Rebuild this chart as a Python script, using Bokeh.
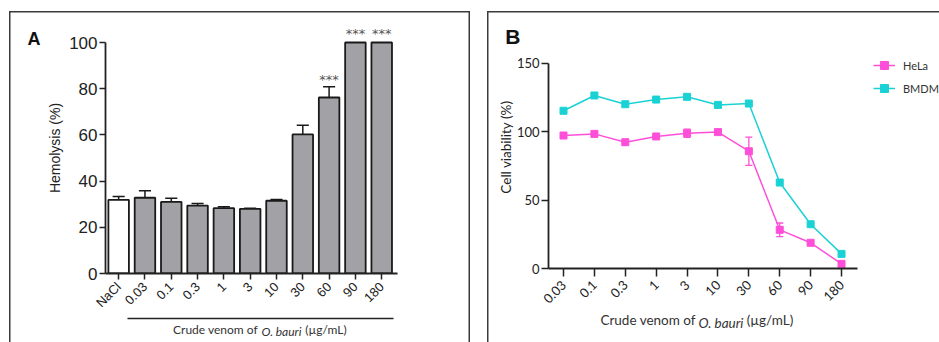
import math
from bokeh.plotting import figure
from bokeh.models import (Range1d, FixedTicker, Label, Legend, LegendItem, LinearAxis)
from bokeh.layouts import row
from bokeh.embed import file_html
from bokeh.resources import INLINE

# ---------------- data ----------------
# Panel A : hemolysis
hemo_categories = ["NaCl", "0.03", "0.1", "0.3", "1", "3", "10", "30", "60", "90", "180"]
hemo_mean = [31.9, 32.8, 31.0, 29.4, 28.3, 28.0, 31.5, 60.2, 76.2, 100.0, 100.0]
hemo_err = [1.4, 3.0, 1.6, 0.9, 0.6, 0.3, 0.5, 4.0, 4.6, 0.0, 0.0]
hemo_stars = ["", "", "", "", "", "", "", "", "***", "***", "***"]
hemo_yticks = [0, 20, 40, 60, 80, 100]

# Panel B : cell viability
conc_labels = ["0.03", "0.1", "0.3", "1", "3", "10", "30", "60", "90", "180"]
hela_mean = [97.3, 98.5, 92.4, 96.6, 99.0, 99.8, 85.8, 28.3, 18.8, 3.4]
hela_err = [0.0, 0.0, 0.0, 0.0, 3.0, 0.0, 10.3, 5.0, 0.0, 0.0]
bmdm_mean = [115.4, 126.6, 120.2, 123.6, 125.6, 119.7, 120.7, 62.9, 32.4, 10.7]
bmdm_err = [0.0] * 10
viab_yticks = [0, 50, 100, 150]
series_names = ["HeLa", "BMDM"]

title_parts = ["Crude venom of", "O. bauri", "(µg/mL)"]
panel_letters = ["A", "B"]

AX = "#222222"
TXT = "#333333"
HELA = "#ff4fd8"
BMDM = "#1ad2d4"
FRAME = "#3a3a3a"
H = 331


def style_axis(ax):
    ax.axis_line_color = AX
    ax.axis_line_width = 1.8
    ax.major_tick_line_color = AX
    ax.major_tick_line_width = 1.5
    ax.major_tick_in = 0
    ax.minor_tick_line_color = None


def text_axis(ticks, labels, font, size, style="normal", standoff=0):
    a = LinearAxis(ticker=FixedTicker(ticks=ticks),
                   major_label_overrides={t: s for t, s in zip(ticks, labels)})
    a.axis_line_color = None
    a.major_tick_line_color = None
    a.minor_tick_line_color = None
    a.major_tick_out = 0
    a.major_tick_in = 0
    a.major_label_standoff = standoff
    a.major_label_text_font = font
    a.major_label_text_font_size = size
    a.major_label_text_font_style = style
    a.major_label_text_color = TXT
    return a


# ================= panel A =================
W_A = 461
pA = figure(width=W_A, height=H, output_backend="svg", toolbar_location=None,
            x_range=Range1d(0, 11.1), y_range=Range1d(0, 108.66),
            min_border_left=96, min_border_right=W_A - 388,
            min_border_top=11, min_border_bottom=H - 262,
            margin=(11, 0, 0, 9))
try:
    pA.frame_align = False
except Exception:
    pass
pA.grid.visible = False
pA.outline_line_color = None
pA.background_fill_color = None
pA.border_fill_color = None
pA.styles = {"box-shadow": "inset 1.5px 0 0 0 %s, inset -1.5px 0 0 0 %s, inset 0 1.5px 0 0 %s"
             % (FRAME, FRAME, FRAME)}

xA = [i + 0.5 for i in range(len(hemo_categories))]
fills = ["white"] + ["#a2a2a6"] * (len(hemo_categories) - 1)
ex = [x for x, e in zip(xA, hemo_err) if e > 0]
ey0 = [m for m, e in zip(hemo_mean, hemo_err) if e > 0]
ey1 = [m + e for m, e in zip(hemo_mean, hemo_err) if e > 0]
pA.segment(x0=ex, y0=ey0, x1=ex, y1=ey1, line_color="#1a1a1a", line_width=1.5)
pA.segment(x0=[x - 0.23 for x in ex], y0=ey1, x1=[x + 0.23 for x in ex], y1=ey1,
           line_color="#1a1a1a", line_width=1.5)
pA.vbar(x=xA, top=hemo_mean, width=0.78, fill_color=fills, line_color="#1a1a1a", line_width=1.8)

pA.xaxis.ticker = FixedTicker(ticks=xA)
pA.xaxis.major_label_overrides = {x: c for x, c in zip(xA, hemo_categories)}
pA.xaxis.major_label_orientation = math.pi / 4
pA.xaxis.major_label_text_font = "Liberation Sans"
pA.xaxis.major_label_text_font_size = "13px"
pA.xaxis.major_label_text_color = AX
pA.xaxis.major_label_standoff = 5
pA.xaxis.major_tick_out = 6
pA.yaxis.ticker = FixedTicker(ticks=hemo_yticks)
pA.yaxis.bounds = (0, 100)
pA.yaxis.major_label_text_font = "Liberation Sans"
pA.yaxis.major_label_text_font_size = "17px"
pA.yaxis.major_label_text_color = AX
pA.yaxis.major_label_standoff = 2
pA.yaxis.major_tick_out = 6
pA.yaxis.axis_label = "Hemolysis (%)"
pA.yaxis.axis_label_text_font = "Liberation Sans"
pA.yaxis.axis_label_text_font_size = "14px"
pA.yaxis.axis_label_text_font_style = "normal"
pA.yaxis.axis_label_text_color = AX
pA.yaxis.axis_label_standoff = 3
style_axis(pA.xaxis[0])
style_axis(pA.yaxis[0])

for x, s, m in zip(xA, hemo_stars, hemo_mean):
    if s:
        pA.add_layout(Label(x=x, y=(103.8 if m >= 100 else 83.9), text=s, text_align="center",
                            text_baseline="alphabetic", text_font="DejaVu Sans",
                            text_font_size="13px", text_color="#555555"))

# panel letter (left of the y axis)
pA.add_layout(text_axis([101.5], [panel_letters[0]], "Liberation Sans", "18px", "bold", 4), "left")
pA.left[-1].major_label_text_color = "#111111"
# underline + x title
uA = text_axis([4.18, 8.38], [title_parts[0], title_parts[2]], "Lato", "12px", "normal", 3)
uA.axis_line_color = AX
uA.axis_line_width = 1.5
uA.bounds = (0.836, 10.948)
pA.add_layout(uA, "below")
pA.add_layout(text_axis([6.69], [title_parts[1]], "Lato", "12px", "italic", -16), "below")

# ================= panel B =================
W_B = 452
pB = figure(width=W_B, height=H, output_backend="svg", toolbar_location=None,
            x_range=Range1d(-0.486, 12.172), y_range=Range1d(0, 177.8),
            min_border_left=61, min_border_right=0,
            min_border_top=14, min_border_bottom=H - 257,
            margin=(11, 0, 0, 17))
try:
    pB.frame_align = False
except Exception:
    pass
pB.grid.visible = False
pB.outline_line_color = None
pB.background_fill_color = None
pB.border_fill_color = None
pB.styles = {"box-shadow": "inset 1.5px 0 0 0 %s, inset 0 1.5px 0 0 %s" % (FRAME, FRAME)}

xB = list(range(len(conc_labels)))
renderers = []
for mean, err, col in ((hela_mean, hela_err, HELA), (bmdm_mean, bmdm_err, BMDM)):
    ex = [x for x, e in zip(xB, err) if e > 0]
    lo = [m - e for m, e in zip(mean, err) if e > 0]
    hi = [m + e for m, e in zip(mean, err) if e > 0]
    if ex:
        pB.segment(x0=ex, y0=lo, x1=ex, y1=hi, line_color=col, line_width=1.3)
        pB.segment(x0=[x - 0.115 for x in ex], y0=hi, x1=[x + 0.115 for x in ex], y1=hi,
                   line_color=col, line_width=1.3)
        pB.segment(x0=[x - 0.115 for x in ex], y0=lo, x1=[x + 0.115 for x in ex], y1=lo,
                   line_color=col, line_width=1.3)
    l = pB.line(x=xB, y=mean, line_color=col, line_width=1.5)
    s = pB.scatter(x=xB, y=mean, marker="square", size=7, fill_color=col, line_color=col)
    renderers.append((l, s))

pB.xaxis.ticker = FixedTicker(ticks=xB)
pB.xaxis.bounds = (-0.486, 9.517)
pB.xaxis.major_label_overrides = {x: c for x, c in zip(xB, conc_labels)}
pB.xaxis.major_label_orientation = math.pi / 4
pB.xaxis.major_label_text_font = "Lato"
pB.xaxis.major_label_text_font_size = "13px"
pB.xaxis.major_label_text_color = AX
pB.xaxis.major_label_standoff = 6
pB.xaxis.major_tick_out = 8
pB.yaxis.ticker = FixedTicker(ticks=viab_yticks)
pB.yaxis.bounds = (0, 150)
pB.yaxis.major_label_text_font = "Lato"
pB.yaxis.major_label_text_font_size = "13px"
pB.yaxis.major_label_text_color = AX
pB.yaxis.major_label_standoff = 2
pB.yaxis.major_tick_out = 7
pB.yaxis.axis_label = "Cell viability (%)"
pB.yaxis.axis_label_text_font = "Lato"
pB.yaxis.axis_label_text_font_size = "13.5px"
pB.yaxis.axis_label_text_font_style = "normal"
pB.yaxis.axis_label_text_color = AX
pB.yaxis.axis_label_standoff = 0
style_axis(pB.xaxis[0])
style_axis(pB.yaxis[0])

legend = Legend(items=[LegendItem(label=n, renderers=list(r)) for n, r in zip(series_names, renderers)],
                location=(325, 170), orientation="vertical", glyph_width=22, glyph_height=20,
                label_height=20, spacing=3, label_standoff=8, padding=0, margin=0,
                border_line_alpha=0, background_fill_alpha=0,
                label_text_font="Lato", label_text_font_size="11px", label_text_color=TXT)
pB.add_layout(legend)

pB.add_layout(text_axis([169.4], [panel_letters[1]], "Liberation Sans", "21px", "bold", -26), "left")
pB.left[-1].major_label_text_color = "#111111"
pB.add_layout(text_axis([2.74, 6.685], [title_parts[0], title_parts[2]], "Lato", "13.5px", "normal", 1),
              "below")
pB.add_layout(text_axis([5.098], [title_parts[1]], "Lato", "13.5px", "italic", -16), "below")

layout = row(pA, pB)
open("out.html", "w").write(file_html(layout, INLINE))
